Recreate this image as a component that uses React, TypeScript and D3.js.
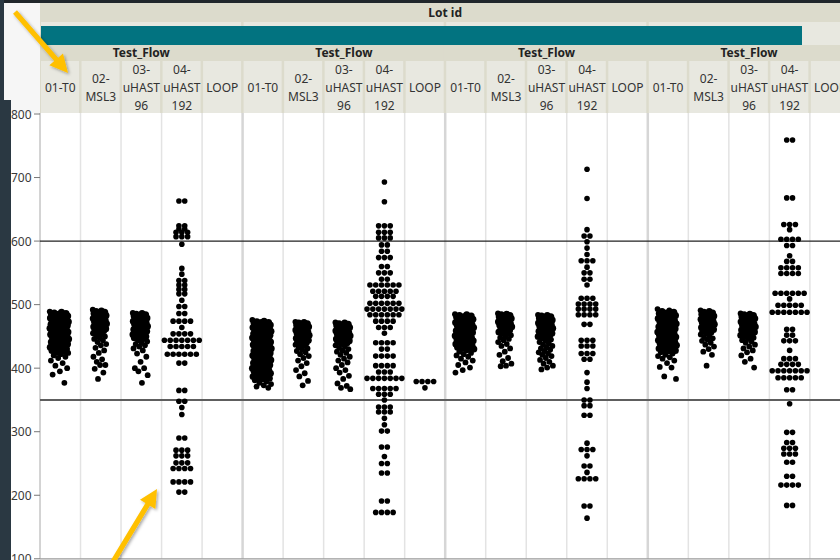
import React from 'react';
import * as d3 from 'd3';

// ---------- data ----------
const lotGroups = ['Lot A', 'Lot B', 'Lot C', 'Lot D'];
const categories = ['01-T0', '02-MSL3', '03-uHAST96', '04-uHAST192', 'LOOP'];
const categoryLabelLines = [['01-T0'], ['02-', 'MSL3'], ['03-', 'uHAST', '96'], ['04-', 'uHAST', '192'], ['LOOP']];
const groupHeader = 'Test_Flow';
const topHeader = 'Lot id';
const yTicks = [100, 200, 300, 400, 500, 600, 700, 800];
const refLines = [600, 350];

const g1T0 = [489,488,487,486,485,485,484,483,482,482,481,480,479,479,478,477,476,476,475,474,473,473,472,471,470,470,469,468,467,467,466,465,464,464,463,462,461,461,460,459,458,458,457,456,455,455,454,453,452,452,451,450,449,448,447,446,445,444,443,442,441,440,439,438,437,436,435,434,433,432,431,430,429,428,427,425,424,422,420,418,416,412,408,404,400,395,390,377];
const g1MSL3 = [492,490,489,488,487,486,485,484,483,482,481,480,479,478,477,476,475,474,473,472,471,470,469,468,467,466,465,464,463,462,461,460,459,457,455,454,452,450,448,446,444,441,438,436,432,428,424,418,414,410,405,405,399,393,383];
const g1U96 = [487,486,485,484,483,482,481,480,479,478,477,476,475,474,473,472,471,470,469,468,467,466,465,464,463,462,461,460,459,458,457,456,455,454,453,452,451,450,449,448,446,444,442,440,438,436,434,431,428,423,418,410,400,400,395,389,377];
const g1U192 = [663,663,624,624,619,619,614,614,614,607,607,607,595,557,548,538,538,531,531,524,524,517,517,507,497,497,486,486,474,474,474,474,464,454,454,454,454,444,444,444,444,444,444,444,434,434,434,434,434,422,422,422,422,422,422,408,408,365,365,348,348,338,327,290,290,271,271,271,262,262,262,251,251,251,242,242,242,242,221,221,221,221,205,205];
const g1LOOP: number[] = [];

const g2T0 = [476,474,473,472,472,471,470,469,468,468,467,466,465,464,464,463,462,461,460,460,459,458,457,456,456,455,454,453,452,452,451,450,449,448,448,447,446,445,444,444,443,442,441,440,440,439,438,437,436,436,435,434,433,432,432,431,430,429,428,428,427,426,425,424,424,423,422,421,420,420,419,418,417,416,415,414,413,412,411,410,409,408,407,406,405,404,403,402,401,400,399,398,397,396,395,394,393,392,391,390,389,388,387,386,385,384,383,381,379,377,375,373,371,369];
const g2MSL3 = [473,472,471,470,469,468,467,466,465,464,463,462,461,460,459,458,457,456,455,454,453,452,451,450,449,448,447,446,445,444,443,441,440,438,437,435,433,431,429,427,425,422,419,416,412,408,403,397,392,387,380,373];
const g2U96 = [472,471,470,469,468,467,466,465,464,463,462,461,460,459,458,457,456,455,454,453,452,451,450,449,448,447,446,445,444,443,442,441,440,438,436,434,432,430,428,426,424,421,418,415,412,409,405,400,397,393,388,383,376,372,369,367];
const g2U192 = [693,662,624,624,624,614,614,614,605,605,605,594,594,584,584,574,574,574,560,560,550,550,550,540,540,531,531,531,531,531,531,521,521,521,521,521,513,513,513,513,502,502,502,502,502,502,493,493,493,493,493,493,493,484,484,484,484,484,484,474,474,474,474,464,464,464,455,440,440,440,440,430,430,419,419,419,419,404,404,404,404,394,394,394,384,384,384,384,384,384,384,368,368,368,368,368,359,359,359,350,339,339,339,331,331,331,321,311,301,301,276,276,261,250,250,235,235,191,191,173,173,173,173];
const g2LOOP = [379,379,379,379,369];

const g3T0 = [485,484,483,482,481,480,479,478,477,476,475,474,473,472,471,470,469,468,467,466,465,464,463,462,461,460,459,458,457,456,455,454,453,452,451,450,449,448,447,446,445,444,443,442,441,440,439,438,437,436,435,434,433,432,431,430,428,426,424,422,420,418,415,412,409,405,401,397,393];
const g3MSL3 = [486,485,484,483,482,481,480,479,478,477,476,475,474,473,472,471,470,469,468,467,466,465,463,462,460,459,457,455,454,452,450,448,446,444,441,438,435,431,426,421,416,411,407,404,403];
const g3U96 = [484,483,482,481,480,479,478,477,476,475,474,473,472,471,470,469,468,467,466,465,464,463,462,461,460,459,458,457,456,455,454,453,452,451,450,448,447,445,443,441,439,437,435,433,431,429,427,425,423,421,419,416,413,410,407,404,401,398];
const g3U192 = [713,667,618,608,608,599,589,579,569,569,569,559,550,550,540,540,531,510,510,510,501,501,501,501,493,493,493,493,484,484,484,484,469,469,444,444,444,435,435,435,423,423,423,414,414,393,378,368,350,350,341,341,326,326,282,272,272,272,262,246,246,236,226,226,226,226,183,183,164];
const g3LOOP: number[] = [];

const g4T0 = [493,491,489,488,487,486,485,484,483,482,481,480,479,478,477,476,475,474,473,472,471,470,469,468,467,466,465,464,463,462,461,460,459,458,457,456,455,454,453,452,451,450,449,448,447,446,445,444,443,442,441,440,439,438,437,436,435,434,433,432,431,430,429,428,427,425,423,421,419,417,415,412,408,402,401,387,383];
const g4MSL3 = [491,489,488,487,486,485,484,483,482,481,480,479,478,477,476,475,474,473,472,471,470,469,468,467,466,465,464,463,462,461,460,458,456,455,453,451,449,447,445,443,440,437,434,430,426,421,404];
const g4U96 = [486,485,484,483,482,481,480,479,478,477,476,475,474,473,472,471,470,469,468,467,466,465,464,463,462,461,460,459,458,457,456,455,454,453,452,451,450,448,446,444,442,440,437,434,431,428,425,420,415,410,401];
const g4U192 = [759,759,668,668,626,626,626,618,603,603,603,603,593,593,577,568,568,558,558,558,558,549,549,549,549,518,518,518,518,518,518,509,499,499,499,499,499,488,488,488,488,488,488,488,461,461,452,452,443,443,443,428,415,415,415,406,406,406,406,396,396,396,396,396,396,396,385,385,385,385,385,366,366,344,299,299,283,283,274,274,274,265,265,265,252,252,230,230,216,216,216,216,184,184];
const g4LOOP: number[] = [];

const seriesTable = [
  [g1T0, g1MSL3, g1U96, g1U192, g1LOOP],
  [g2T0, g2MSL3, g2U96, g2U192, g2LOOP],
  [g3T0, g3MSL3, g3U96, g3U192, g3LOOP],
  [g4T0, g4MSL3, g4U96, g4U192, g4LOOP],
];

// ---------- layout / style ----------
const W = 840, H = 560;
const plotLeft = 40, plotRight = 850.4, plotTop = 114, plotBottom = 558.8;
const layoutMode = ['jitter', 'jitter', 'jitter', 'rows', 'rows'];
const jitterWidth = [19, 14, 15, 0, 0];
const dotR = 2.8, denseR = 3.5, sparseR = 2.9, rowStep = 5.8;
const FONT = '"Noto Sans", "Open Sans", sans-serif';
const BAND = '#dcdbcc', CELL = '#e8e8e0', TEAL = '#027380', GOLD = '#ffc000';

const xGroup = d3.scaleBand<string>().domain(lotGroups).range([plotLeft, plotRight]);
const xCat = d3.scaleBand<string>().domain(categories).range([0, xGroup.bandwidth()]);
const y = d3.scaleLinear().domain([100, 800]).range([plotBottom, plotTop]);

function layoutPoints(values: number[], cx: number, mode: string, w: number) {
  const out: { x: number; y: number; r: number }[] = [];
  if (mode === 'rows') {
    const groups = d3.group(values, (v) => v);
    for (const [v, arr] of groups) {
      const n = arr.length;
      arr.forEach((_, i) => out.push({ x: cx + (i - (n - 1) / 2) * rowStep, y: y(v), r: dotR }));
    }
  } else {
    const sorted = [...values].sort((a, b) => b - a);
    sorted.forEach((v, i) => {
      const f = (i * 0.6180339887) % 1;
      const neighbours = sorted.filter((u) => Math.abs(u - v) <= 3).length;
      out.push({ x: cx - 1 + (f - 0.5) * w, y: y(v), r: neighbours >= 5 ? denseR : sparseR });
    });
  }
  return out;
}

function arrow(sx: number, sy: number, tx: number, ty: number) {
  const dx = tx - sx, dy = ty - sy;
  const len = Math.hypot(dx, dy);
  const ux = dx / len, uy = dy / len;
  const nx = -uy, ny = ux;
  const hl = 18, sw = 2.6, hw = 9;
  const bx = tx - ux * hl, by = ty - uy * hl;
  const pts = [
    [sx + nx * sw, sy + ny * sw],
    [bx + nx * sw, by + ny * sw],
    [bx + nx * hw, by + ny * hw],
    [tx, ty],
    [bx - nx * hw, by - ny * hw],
    [bx - nx * sw, by - ny * sw],
    [sx - nx * sw, sy - ny * sw],
  ];
  return pts.map((p) => p.join(',')).join(' ');
}

export default function App() {
  const gw = xGroup.bandwidth();
  const cw = xCat.bandwidth();
  return (
    <svg width={W} height={H} style={{ position: 'fixed', left: 0, top: 0, fontFamily: FONT }}>
      <defs>
        <filter id="sh" x="-20%" y="-20%" width="140%" height="140%">
          <feDropShadow dx="1.5" dy="1.5" stdDeviation="1.5" floodColor="#000" floodOpacity="0.35" />
        </filter>
        <clipPath id="clip"><rect x={0} y={0} width={W} height={H} /></clipPath>
      </defs>
      <rect x={0} y={0} width={W} height={H} fill="#ffffff" />
      {/* left light panel above axis */}
      <rect x={4} y={3} width={36} height={110} fill="#f6f6f6" />
      {/* header base */}
      <rect x={plotLeft} y={3} width={W - plotLeft} height={110} fill={BAND} />
      {/* Lot id band text */}
      <text x={(plotLeft + plotRight) / 2} y={17} textAnchor="middle" fontSize={12} fontWeight="bold" fill="#222">{topHeader}</text>
      {lotGroups.map((g) => {
        const gx = xGroup(g)!;
        return (
          <g key={g}>
            <rect x={gx + 1} y={22} width={gw - 2.5} height={23} fill={CELL} />
            <rect x={gx + 1} y={45} width={gw - 2.5} height={15} fill={BAND} />
            <text x={gx + gw / 2} y={57} textAnchor="middle" fontSize={12} fontWeight="bold" fill="#222">{groupHeader}</text>
            {categories.map((c, ci) => {
              const cx0 = gx + xCat(c)!;
              const lines = categoryLabelLines[ci];
              return (
                <g key={c}>
                  <rect x={cx0 + 1} y={61} width={cw - 2.5} height={52} fill={CELL} />
                  {lines.map((ln, li) => (
                    <text key={li} x={cx0 + cw / 2} y={87 + (li - (lines.length - 1) / 2) * 18} textAnchor="middle"
                      dominantBaseline="central" fontSize={12} fill="#333">{ln}</text>
                  ))}
                </g>
              );
            })}
          </g>
        );
      })}
      <rect x={41} y={26} width={761} height={19} fill={TEAL} />
      {/* plot grid */}
      {lotGroups.map((g) => {
        const gx = xGroup(g)!;
        return (
          <g key={'grid' + g}>
            {categories.slice(1).map((c) => (
              <line key={c} x1={gx + xCat(c)!} x2={gx + xCat(c)!} y1={113} y2={plotBottom} stroke="#e3e3e3" strokeWidth={1.5} />
            ))}
            <line x1={gx + gw} x2={gx + gw} y1={113} y2={plotBottom} stroke="#d6d6d6" strokeWidth={2.5} />
          </g>
        );
      })}
      <line x1={plotLeft} x2={plotLeft} y1={113} y2={plotBottom} stroke="#a8a8a8" strokeWidth={1} />
      <line x1={plotLeft} x2={W} y1={plotBottom} y2={plotBottom} stroke="#9a9a9a" strokeWidth={1.2} />
      {/* y axis */}
      {yTicks.map((t) => (
        <g key={t}>
          <line x1={34} x2={plotLeft} y1={y(t)} y2={y(t)} stroke="#777" strokeWidth={1} />
          <text x={31.5} y={y(t)} textAnchor="end" dominantBaseline="central" fontSize={12} fill="#3a3a3a">{t}</text>
        </g>
      ))}
      {/* reference lines */}
      {refLines.map((r, i) => (
        <line key={r} x1={plotLeft} x2={W} y1={y(r)} y2={y(r)} stroke={i === 0 ? '#222' : '#5e5e5e'} strokeWidth={i === 0 ? 1.4 : 2} />
      ))}
      {/* points */}
      <g clipPath="url(#clip)">
        {seriesTable.map((row, gi) => {
          const gx = xGroup(lotGroups[gi])!;
          return row.map((vals, ci) => {
            const cx = gx + xCat(categories[ci])! + cw / 2;
            const pts = layoutPoints(vals, cx, layoutMode[ci], jitterWidth[ci]);
            return pts.map((p, k) => <circle key={`${gi}-${ci}-${k}`} cx={p.x} cy={p.y} r={p.r} fill="#000" />);
          });
        })}
      </g>
      {/* dark window edges */}
      <rect x={0} y={0} width={W} height={3} fill="#20262b" />
      <path d="M0,0 H4 V100 H11 V560 H0 Z" fill="#2a3842" />
      {/* annotation arrows */}
      <polygon points={arrow(15, 12, 68, 73)} fill={GOLD} filter="url(#sh)" />
      <polygon points={arrow(108, 570, 157, 489)} fill={GOLD} filter="url(#sh)" />
    </svg>
  );
}
